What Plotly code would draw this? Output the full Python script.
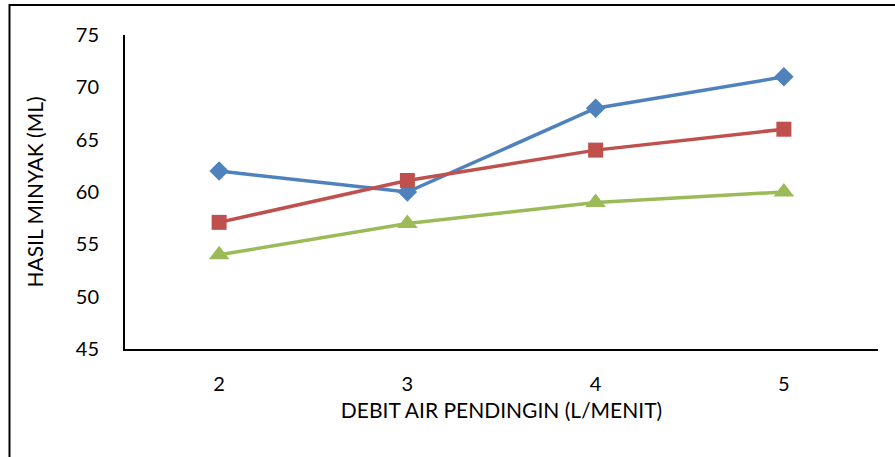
import plotly.graph_objects as go

# Cooling water flow rate (L/min) and oil yield (mL) for three runs
debit = ["2", "3", "4", "5"]
seri_biru = [62, 60, 68, 71]
seri_merah = [57.1, 61.1, 64, 66]
seri_hijau = [54, 57, 59, 60]

FONT = "Lato"
W, H = 895, 457
M_L, M_R, M_T, M_B = 125, 17, 35, 108
PW = W - M_L - M_R
PH = H - M_T - M_B

fig = go.Figure()
fig.add_trace(go.Scatter(x=debit, y=seri_biru, mode="lines+markers",
                         line=dict(color="#4F81BD", width=3.5),
                         marker=dict(symbol="diamond", size=15, color="#4F81BD")))
fig.add_trace(go.Scatter(x=debit, y=seri_merah, mode="lines+markers",
                         line=dict(color="#C0504D", width=3.5),
                         marker=dict(symbol="square", size=15, color="#C0504D")))
fig.add_trace(go.Scatter(x=debit, y=seri_hijau, mode="lines+markers",
                         line=dict(color="#9BBB59", width=3.5),
                         marker=dict(symbol="triangle-up", size=18, color="#9BBB59")))

# outer chart frame, running off the right and bottom edges
fig.add_shape(type="rect", xref="paper", yref="paper",
              x0=(9.5 - M_L) / PW, x1=1.2,
              y0=-0.5, y1=(H - M_B - 5) / PH,
              line=dict(color="black", width=2), fillcolor="rgba(0,0,0,0)",
              layer="below")

fig.update_layout(
    width=W, height=H,
    margin=dict(l=M_L, r=M_R, t=M_T, b=M_B),
    paper_bgcolor="white", plot_bgcolor="white",
    showlegend=False,
    font=dict(family=FONT, size=20, color="black"),
    xaxis=dict(type="category", range=[-0.5, 3.5], showgrid=False,
               showline=True, linecolor="black", linewidth=2,
               ticks="", ticklabelstandoff=16,
               title=dict(text="DEBIT AIR PENDINGIN (L/MENIT)", standoff=9,
                          font=dict(size=21))),
    yaxis=dict(range=[45, 75], dtick=5, showgrid=False, zeroline=False,
               showline=True, linecolor="black", linewidth=2,
               ticks="", ticklabelstandoff=20,
               title=dict(text="HASIL MINYAK (ML)", standoff=26,
                          font=dict(size=21))),
)

fig.write_html("out.html")
